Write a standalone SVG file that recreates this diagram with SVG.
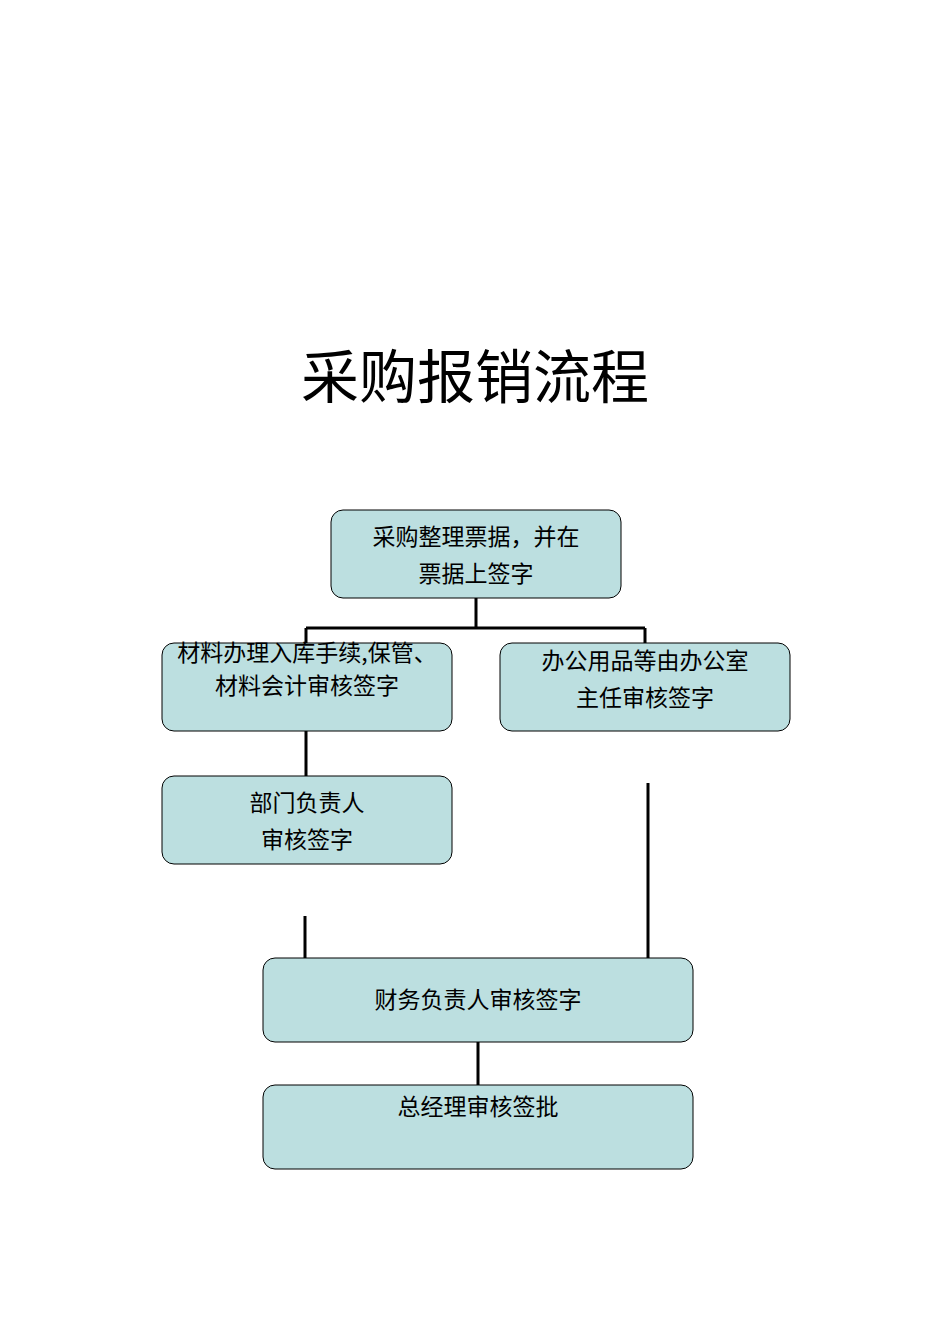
<svg xmlns="http://www.w3.org/2000/svg" width="950" height="1344" viewBox="0 0 950 1344">
<style>
.b{fill:#bcdfe0;stroke:#000;stroke-width:1}
.t{font-family:"Noto Sans CJK SC","Liberation Sans",sans-serif;font-size:23px;text-anchor:middle;fill:#000}
.c{stroke:#000;stroke-width:3;fill:none}
</style>
<rect width="950" height="1344" fill="#fff"/>
<text x="475" y="398" style="font-family:'Noto Sans CJK SC',sans-serif;font-size:58px;text-anchor:middle">采购报销流程</text>
<g id="connectors">
<path class="c" d="M476 598V628M306 628H645M306 628V643M645 628V643M306 731V776M305 916V958M648 783V958M478 1042V1085"/>
</g>
<g id="n1"><rect class="b" x="331" y="510" width="290" height="88" rx="12"/><text class="t" x="476" y="545">采购整理票据，并在</text><text class="t" x="476" y="582">票据上签字</text></g>
<g id="n2"><rect class="b" x="162" y="643" width="290" height="88" rx="12"/><text class="t" x="307" y="661">材料办理入库手续,保管、</text><text class="t" x="307" y="694">材料会计审核签字</text></g>
<g id="n3"><rect class="b" x="500" y="643" width="290" height="88" rx="12"/><text class="t" x="645" y="669">办公用品等由办公室</text><text class="t" x="645" y="706">主任审核签字</text></g>
<g id="n4"><rect class="b" x="162" y="776" width="290" height="88" rx="12"/><text class="t" x="307" y="811">部门负责人</text><text class="t" x="307" y="848">审核签字</text></g>
<g id="n5"><rect class="b" x="263" y="958" width="430" height="84" rx="12"/><text class="t" x="478" y="1008">财务负责人审核签字</text></g>
<g id="n6"><rect class="b" x="263" y="1085" width="430" height="84" rx="12"/><text class="t" x="478" y="1115">总经理审核签批</text></g>
</svg>
